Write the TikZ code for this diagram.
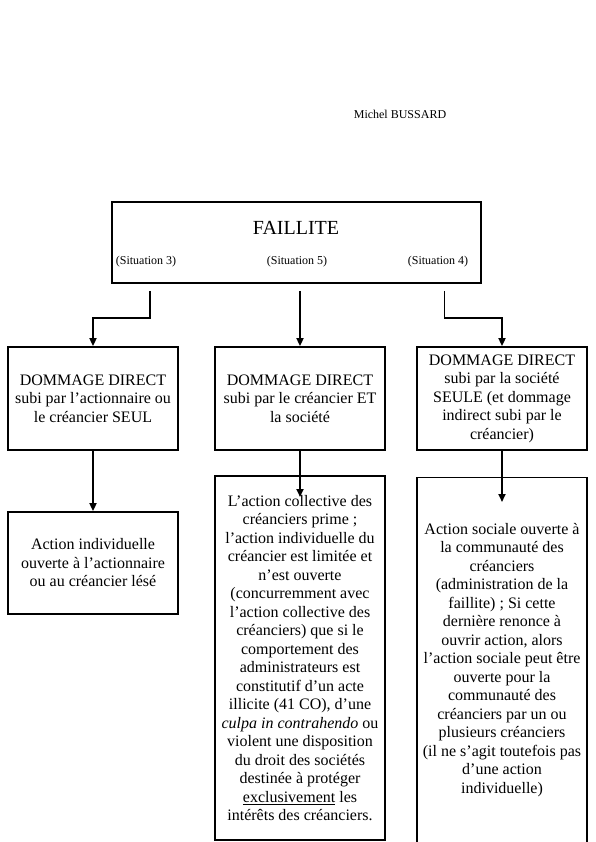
\documentclass[tikz,border=0pt]{standalone}
\usepackage{fontspec}
\setmainfont{Liberation Serif}
\usetikzlibrary{arrows.meta}

\begin{document}
\begin{tikzpicture}[x=1pt, y=-1pt, line width=1.8pt,
        >={Triangle[length=8pt,width=7pt]},
        cadre/.style={draw, align=center, inner sep=0pt, minimum width=170pt,
            font=\fontsize{16}{18.5}\selectfont},
        situation/.style={font=\fontsize{12}{14}\selectfont}]
        \useasboundingbox (0,0) rectangle (595,842);
        \node[situation] (AUTEUR) at (400,114) {Michel BUSSARD};
        \node[draw, minimum width=369pt, minimum height=81pt] (FAIL) at (296.5,242.5) {};
        \node[font=\fontsize{20}{24}\selectfont] (FAILT) at (296,228) {FAILLITE};
        \node[situation] (SIT3) at (146,262) {(Situation 3)};
        \node[situation] (SIT5) at (297,262) {(Situation 5)};
        \node[situation] (SIT4) at (438,262) {(Situation 4)};
        \node[cadre, minimum height=103pt] (DIRSEUL) at (93,398.5) {
            DOMMAGE DIRECT\\subi par l’actionnaire ou\\le créancier SEUL
        };
        \node[cadre, minimum height=103pt] (DIRET) at (300,398.5) {
            DOMMAGE DIRECT\\subi par le créancier ET\\la société
        };
        \node[cadre, minimum height=103pt] (DIRSOC) at (502,398.5) {
            DOMMAGE DIRECT\\subi par la société\\SEULE (et dommage\\indirect subi par le\\créancier)
        };
        \node[cadre, minimum height=102pt] (ACTIND) at (93,563) {
            Action individuelle\\ouverte à l’actionnaire\\ou au créancier lésé
        };
        \node[cadre, minimum height=364pt] (ACTCOL) at (300,658) {
            L’action collective des\\créanciers prime ;\\l’action individuelle du\\
            créancier est limitée et\\n’est ouverte\\(concurremment avec\\
            l’action collective des\\créanciers) que si le\\comportement des\\
            administrateurs est\\constitutif d’un acte\\illicite (41 CO), d’une\\
            \textit{culpa in contrahendo} ou\\violent une disposition\\
            du droit des sociétés\\destinée à protéger\\
            \underline{exclusivement} les\\intérêts des créanciers.
        };
        \node[cadre, minimum height=365pt] (ACTSOC) at (502,660) {
            Action sociale ouverte à\\la communauté des\\créanciers\\
            (administration de la\\faillite) ; Si cette\\dernière renonce à\\
            ouvrir action, alors\\l’action sociale peut être\\ouverte pour la\\
            communauté des\\créanciers par un ou\\plusieurs créanciers\\
            (il ne s’agit toutefois pas\\d’une action\\individuelle)
        };
        \coordinate (TIPCOL) at (300,497);
        \coordinate (TIPSOC) at (502,502);
        \draw[->, shorten <=7pt] ([xshift=-146.5pt]FAIL.south) -- ++(0,34) -| (DIRSEUL.north);
        \draw[->, shorten <=7pt] (FAIL.south -| DIRET.north) -- (DIRET.north);
        \draw[->, shorten <=7pt] ([xshift=148pt]FAIL.south) -- ++(0,34) -| (DIRSOC.north);
        \draw[->] (DIRSEUL) -- (ACTIND);
        \draw[->] (DIRET.south) -- (TIPCOL);
        \draw[->] (DIRSOC.south) -- (TIPSOC);
\end{tikzpicture}
\end{document}
